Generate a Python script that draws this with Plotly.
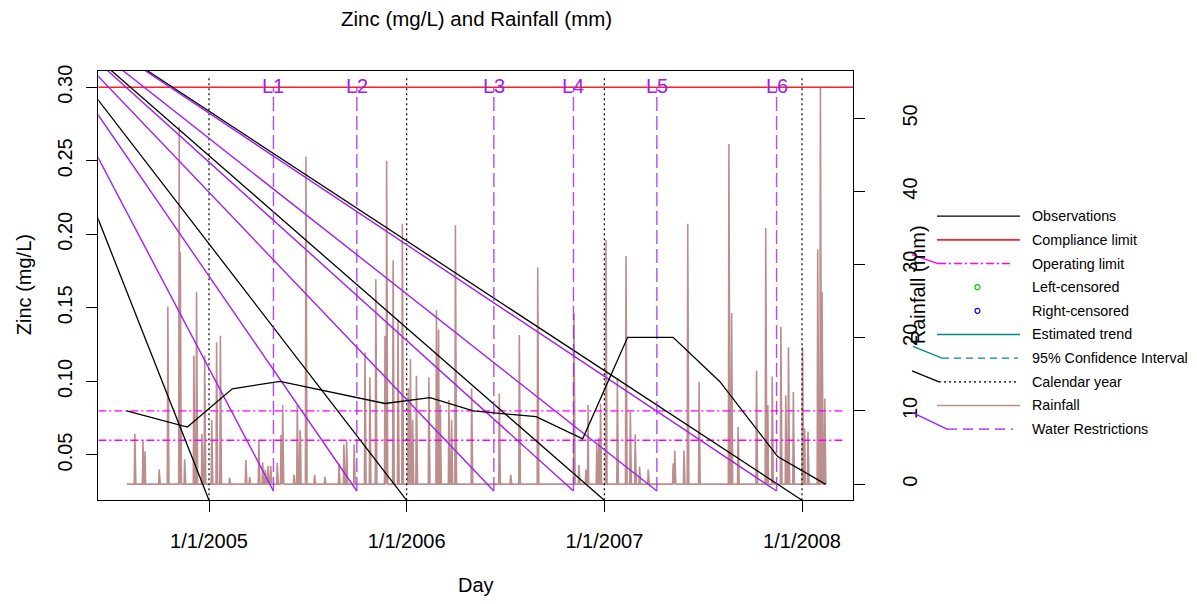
import pandas as pd
import plotly.graph_objects as go

# the page body has an 8px margin: the figure is drawn inside it
OFF = 8
FIG_W, FIG_H = 1197 - 2 * OFF, 604 - 2 * OFF
FONT = "Liberation Sans, Arial, Helvetica, sans-serif"

# ---------------- data ----------------
obs_dates = ["2004-08-02", "2004-11-22", "2005-02-13", "2005-05-12", "2005-11-22",
             "2006-02-13", "2006-05-04", "2006-08-28", "2006-11-22", "2007-02-13",
             "2007-05-08", "2007-08-02", "2007-11-17", "2008-02-14"]
obs_zinc = [0.080, 0.069, 0.095, 0.100, 0.085,
            0.089, 0.080, 0.076, 0.061, 0.130,
            0.130, 0.100, 0.049, 0.030]

rain_start, rain_end = "2004-08-02", "2008-02-14"
rain_dates = [
    "2004-08-17", "2004-09-01", "2004-09-05", "2004-10-01", "2004-10-17", "2004-11-07",
    "2004-11-09", "2004-11-17", "2004-12-04", "2004-12-09", "2004-12-19", "2004-12-24",
    "2005-01-06", "2005-01-15", "2005-01-22", "2005-02-08", "2005-03-10", "2005-03-17",
    "2005-04-03", "2005-04-10", "2005-04-15", "2005-04-20", "2005-04-25", "2005-05-07",
    "2005-05-14", "2005-05-17", "2005-06-07", "2005-06-13", "2005-06-18", "2005-06-19",
    "2005-06-29", "2005-07-15", "2005-08-03", "2005-08-29", "2005-09-07", "2005-09-12",
    "2005-09-26", "2005-10-16", "2005-10-25", "2005-11-05", "2005-11-22", "2005-11-25",
    "2005-12-07", "2005-12-16", "2005-12-24", "2006-01-04", "2006-01-08", "2006-01-12",
    "2006-01-19", "2006-02-11", "2006-02-25", "2006-03-01", "2006-03-04", "2006-03-20",
    "2006-03-25", "2006-04-01", "2006-05-01", "2006-06-21", "2006-07-12", "2006-07-28",
    "2006-08-31", "2006-11-06", "2006-11-15", "2006-11-28", "2006-12-02", "2006-12-18",
    "2006-12-22", "2006-12-25", "2007-01-04", "2007-01-25", "2007-02-10", "2007-02-18",
    "2007-02-27", "2007-03-07", "2007-03-23", "2007-05-08", "2007-05-11", "2007-05-28",
    "2007-06-04", "2007-06-25", "2007-08-19", "2007-08-24", "2007-09-05", "2007-10-09",
    "2007-10-26", "2007-10-30", "2007-11-07", "2007-11-23", "2007-12-02", "2007-12-07",
    "2007-12-16", "2008-01-02", "2008-01-06", "2008-01-12", "2008-01-30", "2008-02-04",
    "2008-02-07", "2008-02-12"]
rain_mm = [
    6.9, 6.0, 4.5, 2.0, 24.3, 48.9,
    31.7, 3.4, 17.6, 26.3, 6.9, 17.6,
    8.8, 19.4, 20.3, 0.9, 3.3, 1.0,
    6.0, 3.0, 2.0, 2.5, 2.5, 2.9,
    6.7, 10.8, 1.3, 10.8, 7.4, 6.3,
    44.8, 1.3, 1.0, 2.8, 5.4, 6.0,
    5.4, 18.0, 14.6, 28.0, 20.3, 44.2,
    30.6, 22.5, 35.6, 13.1, 17.1, 8.8,
    14.8, 14.6, 23.8, 21.1, 10.8, 11.5,
    8.8, 35.4, 13.1, 12.4, 1.3, 20.4,
    29.6, 23.3, 2.6, 2.0, 10.8, 5.4,
    6.3, 11.0, 33.4, 14.5, 31.2, 9.9,
    6.8, 2.4, 2.0, 2.8, 4.6, 4.6,
    35.6, 14.0, 46.5, 23.4, 7.8, 15.5,
    35.0, 10.8, 14.7, 21.5, 12.1, 18.7,
    12.6, 18.7, 7.6, 7.2, 32.1, 54.3,
    26.3, 11.7]

year_ticks = ["2005-01-01", "2006-01-01", "2007-01-01", "2008-01-01"]
year_tick_text = ["1/1/2005", "1/1/2006", "1/1/2007", "1/1/2008"]

wr_dates = ["2005-04-30", "2005-10-01", "2006-06-11", "2006-11-05", "2007-04-08", "2007-11-15"]
wr_labels = ["L1", "L2", "L3", "L4", "L5", "L6"]

compliance_limit = 0.30
operating_limits = [0.08, 0.06]
operating_end = "2008-03-20"

zinc_ticks = [0.05, 0.10, 0.15, 0.20, 0.25, 0.30]
zinc_tick_text = ["0.05", "0.10", "0.15", "0.20", "0.25", "0.30"]
rain_ticks = [0, 10, 20, 30, 40, 50]

legend_labels = ["Observations", "Compliance limit", "Operating limit", "Left-censored",
                 "Right-censored", "Estimated trend", "95% Confidence Interval",
                 "Calendar year", "Rainfall", "Water Restrictions"]

# ---------------- scales / styles ----------------
X_RANGE = ["2004-06-10 14:00", "2008-04-04 17:00"]
ZINC_RANGE = [0.0192, 0.3112]
RAIN_RANGE = [-2.21, 56.52]
CAL_TOP = 0.308
WR_TOP, WR_BOTTOM = 0.300, 0.0255
ORIGIN = ("2003-12-16", 0.376)   # stray pen origin of the device artefact lines

PURPLE = "#A020F0"
MAGENTA = "#FF00FF"
RAIN_COLOR = "#BC8F8F"
TEAL = "#008B8B"


def px(x):
    return (x - OFF) / FIG_W


def py(y):
    return 1 - (y - OFF) / FIG_H


fig = go.Figure()

# rainfall (on rain axis, drawn first)
days = pd.date_range(rain_start, rain_end, freq="D")
rain = pd.Series(0.0, index=days)
for d, v in zip(rain_dates, rain_mm):
    rain[pd.Timestamp(d)] = v
fig.add_trace(go.Scatter(x=rain.index, y=rain.values, mode="lines", yaxis="y",
                         line=dict(color=RAIN_COLOR, width=1.6), hoverinfo="skip"))

# compliance limit
fig.add_trace(go.Scatter(x=X_RANGE, y=[compliance_limit] * 2, mode="lines", yaxis="y2",
                         line=dict(color="#FF2020", width=1.6), hoverinfo="skip"))
# operating limits
for lim in operating_limits:
    fig.add_trace(go.Scatter(x=[X_RANGE[0], operating_end], y=[lim, lim], mode="lines", yaxis="y2",
                             line=dict(color=MAGENTA, width=1.3, dash="8px,3px,2px,3px"),
                             hoverinfo="skip"))
# calendar years + artefact diagonals
for d in year_ticks:
    fig.add_trace(go.Scatter(x=[d, d], y=[ZINC_RANGE[0], CAL_TOP], mode="lines", yaxis="y2",
                             line=dict(color="black", width=1.2, dash="2px,3px"), hoverinfo="skip"))
    fig.add_trace(go.Scatter(x=[ORIGIN[0], d], y=[ORIGIN[1], ZINC_RANGE[0]], mode="lines", yaxis="y2",
                             line=dict(color="black", width=1.3), hoverinfo="skip"))
# water restrictions + artefact diagonals
for d in wr_dates:
    fig.add_trace(go.Scatter(x=[d, d], y=[WR_BOTTOM, WR_TOP], mode="lines", yaxis="y2",
                             line=dict(color=PURPLE, width=1.4, dash="14px,5px"), opacity=0.8,
                             hoverinfo="skip"))
    fig.add_trace(go.Scatter(x=[ORIGIN[0], d], y=[ORIGIN[1], WR_BOTTOM], mode="lines", yaxis="y2",
                             line=dict(color=PURPLE, width=1.4), hoverinfo="skip"))
# observations
fig.add_trace(go.Scatter(x=obs_dates, y=obs_zinc, mode="lines", yaxis="y2",
                         line=dict(color="black", width=1.3), hoverinfo="skip"))

annotations = []
for d, lab in zip(wr_dates, wr_labels):
    annotations.append(dict(x=d, y=compliance_limit, xref="x", yref="y2", text=lab, showarrow=False,
                            xanchor="center", yanchor="middle", yshift=1,
                            font=dict(family=FONT, size=20, color=PURPLE)))


def label(x, y, text, size=20, angle=0):
    annotations.append(dict(x=px(x), y=py(y), xref="paper", yref="paper", text=text,
                            textangle=angle, xanchor="center", yanchor="middle", showarrow=False,
                            font=dict(family=FONT, size=size, color="black")))


label(476, 13, "Zinc (mg/L) and Rainfall (mm)", 20.5)
label(476, 585, "Day")
label(24, 282, "Zinc (mg/L)", angle=-90)
label(918, 282, "Rainfall (mm)", angle=-90)

# ---------------- manual legend (R style) ----------------
shapes = []
row0, step = 212.3, 23.9
rows = [row0 + step * k for k in range(len(legend_labels))]
for lab, yy in zip(legend_labels, rows):
    annotations.append(dict(x=px(1030), y=py(yy), xref="paper", yref="paper", text=lab,
                            xanchor="left", yanchor="middle", showarrow=False,
                            font=dict(family=FONT, size=14.3, color="black")))


def seg(x0, y0, x1, y1, color, width=1.3, dash="solid"):
    shapes.append(dict(type="line", xref="paper", yref="paper", x0=px(x0), y0=py(y0),
                       x1=px(x1), y1=py(y1), line=dict(color=color, width=width, dash=dash)))


seg(937, rows[0], 1020, rows[0], "black")
seg(937, rows[1], 1020, rows[1], "#FF2020", 1.6)
seg(912, rows[2] - 9, 938, rows[2], MAGENTA)
seg(938, rows[2], 1012, rows[2], MAGENTA, 1.5, "8px,3px,2px,3px")
for yy, col in ((rows[3], "#00CC00"), (rows[4], "blue")):
    shapes.append(dict(type="circle", xref="paper", yref="paper",
                       x0=px(975), x1=px(980), y0=py(yy - 2.5), y1=py(yy + 2.5),
                       line=dict(color=col, width=1.2)))
seg(937, rows[5], 1020, rows[5], TEAL)
seg(913, rows[6] - 12, 942, rows[6], TEAL)
seg(942, rows[6], 1018, rows[6], TEAL, 1.3, "7px,5px")
seg(912, rows[7] - 11, 939, rows[7], "black")
seg(939, rows[7], 1019, rows[7], "black", 1.2, "2px,3px")
seg(937, rows[8], 1020, rows[8], RAIN_COLOR, 1.6)
seg(912, rows[9] - 17, 947, rows[9], PURPLE)
seg(947, rows[9], 1013, rows[9], PURPLE, 1.3, "10px,6px")

axis_common = dict(showgrid=False, zeroline=False, ticks="outside", ticklen=11, tickwidth=1,
                   tickcolor="black", showline=True, linecolor="black", linewidth=1,
                   tickfont=dict(family=FONT, size=20, color="black"))

fig.update_layout(
    width=FIG_W, height=FIG_H,
    margin=dict(l=0, r=0, t=0, b=0),
    paper_bgcolor="white", plot_bgcolor="white",
    showlegend=False,
    xaxis=dict(domain=[px(98.3), px(853.3)], range=X_RANGE, type="date",
               tickmode="array", tickvals=year_ticks, ticktext=year_tick_text,
               mirror=True, anchor="y", ticklabelstandoff=12, **axis_common),
    yaxis=dict(domain=[py(499.3), py(65.3)], range=RAIN_RANGE, side="right",
               tickmode="array", tickvals=rain_ticks, tickangle=-90, anchor="x",
               ticklabelstandoff=28, **axis_common),
    yaxis2=dict(range=ZINC_RANGE, overlaying="y", side="left", anchor="x",
                tickmode="array", tickvals=zinc_ticks, ticktext=zinc_tick_text,
                tickangle=-90, ticklabelstandoff=6, **axis_common),
    annotations=annotations,
    shapes=shapes,
)

fig.write_html("out.html")
